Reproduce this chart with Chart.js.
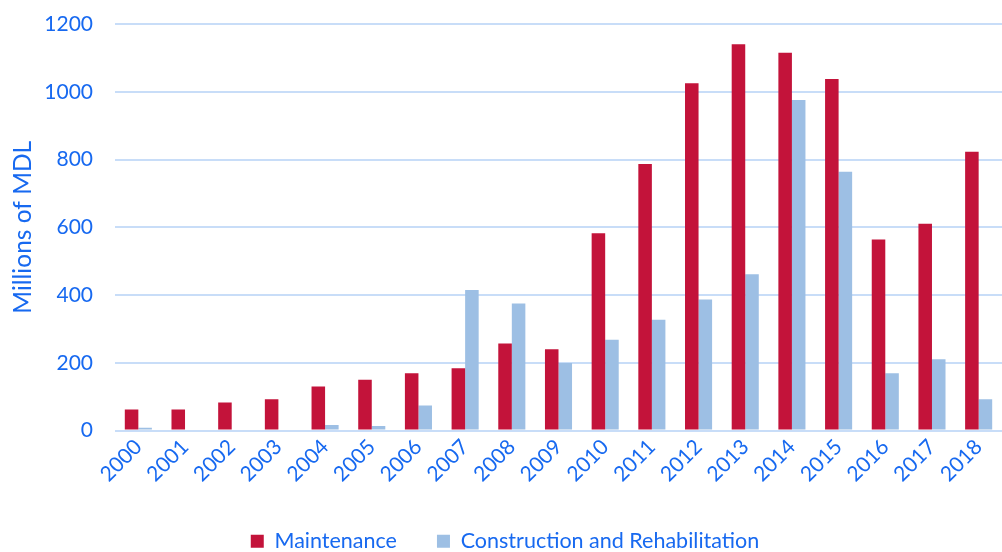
<!DOCTYPE html>
<html>
<head>
<meta charset="utf-8">
<script src="https://cdn.jsdelivr.net/npm/chart.js@4.4.1/dist/chart.umd.min.js"></script>
<style>
  html, body { margin: 0; padding: 0; background: #fff; }
  #wrap { width: 1002px; height: 552px; }
</style>
</head>
<body>
<div id="wrap"><canvas id="budgetChart"></canvas></div>
<script>
const years = ["2000", "2001", "2002", "2003", "2004", "2005", "2006", "2007", "2008", "2009",
  "2010", "2011", "2012", "2013", "2014", "2015", "2016", "2017", "2018"];
const maintenance = [62, 62, 83, 92, 130, 150, 169, 184, 257, 240, 582, 787, 1025, 1140, 1115, 1038, 564, 610, 823];
const construction = [8, 0, 0, 0, 16, 13, 74, 415, 375, 199, 268, 327, 387, 461, 976, 764, 169, 210, 92];
const yTicks = [0, 200, 400, 600, 800, 1000, 1200];

const blueText = "#1769f0";
const fontFamily = "Lato, 'Open Sans', sans-serif";

new Chart(document.getElementById("budgetChart"), {
  type: "bar",
  data: {
    labels: years,
    datasets: [
      {
        label: "Maintenance",
        data: maintenance,
        backgroundColor: "#c3133a",
        categoryPercentage: 0.58,
        barPercentage: 1.0,
      },
      {
        label: "Construction and Rehabilitation",
        data: construction,
        backgroundColor: "#9dbfe4",
        categoryPercentage: 0.58,
        barPercentage: 1.0,
      },
    ],
  },
  options: {
    responsive: true,
    maintainAspectRatio: false,
    animation: false,
    // negative bottom lets the legend sit lower, like the original
    layout: { padding: { top: 0, right: 0, left: 8, bottom: -10 } },
    plugins: {
      legend: {
        position: "bottom",
        labels: {
          color: blueText,
          font: { family: fontFamily, size: 21.5 },
          boxWidth: 13,
          boxHeight: 13,
          padding: 40,
        },
      },
      tooltip: { enabled: false },
    },
    scales: {
      x: {
        grid: { display: false, drawTicks: false },
        border: { display: false },
        ticks: {
          color: blueText,
          font: { family: fontFamily, size: 21 },
          minRotation: 45,
          maxRotation: 45,
          padding: 4,
        },
        afterFit: (axis) => {
          axis.height = 60;
        },
      },
      y: {
        min: 0,
        max: 1200,
        afterBuildTicks: (axis) => {
          axis.ticks = yTicks.map((v) => ({ value: v }));
        },
        afterFit: (axis) => {
          axis.width = 107;
          axis.paddingTop = 24;
        },
        grid: { color: "#c8ddf8", lineWidth: 2, drawTicks: false },
        border: { display: false },
        ticks: {
          color: blueText,
          font: { family: fontFamily, size: 21 },
          padding: 22,
          callback: (value) => String(value),
        },
        title: {
          display: true,
          text: "Millions of MDL",
          color: blueText,
          font: { family: fontFamily, size: 24.5 },
          padding: { top: 0, bottom: 4 },
        },
      },
    },
  },
});
</script>
</body>
</html>
